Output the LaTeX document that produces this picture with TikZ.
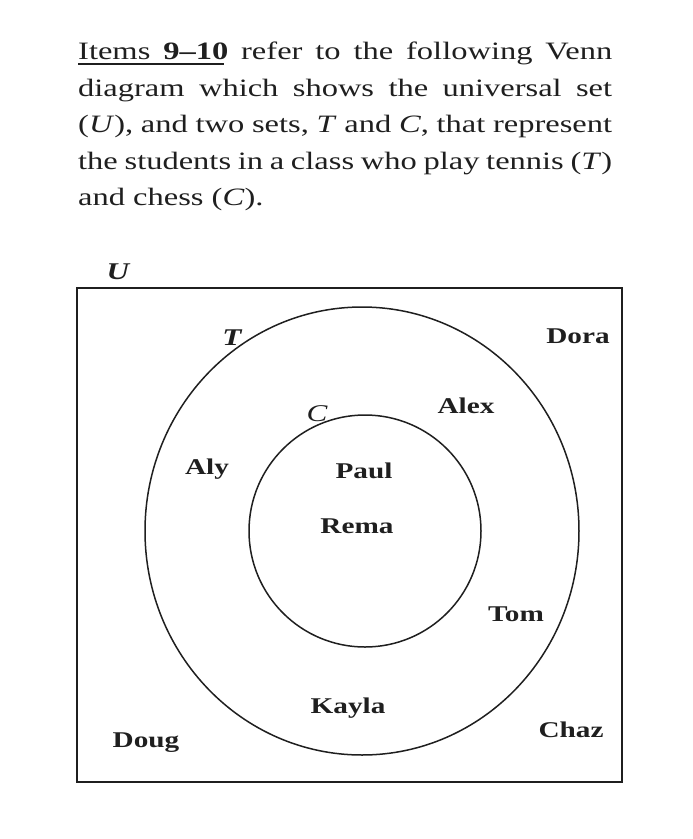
\documentclass[tikz,border=0pt]{standalone}
\usepackage{fontspec}
\setmainfont{Liberation Serif}[FakeStretch=1.3]

\newlength\VDulwd
\newcommand\VDthickul[1]{\settowidth\VDulwd{#1}\rlap{\rule[-5pt]{\VDulwd}{1.8pt}}#1}

\begin{document}
\begin{tikzpicture}[x=1pt,y=-1pt]

  % ---- sizing knobs ----
  \def\VDcx{362}   % centre of both circles
  \def\VDcy{531}
  \def\VDrTx{217}  % radii of T
  \def\VDrTy{224}
  \def\VDrC{116}   % radius of C

  \definecolor{VDLine}{gray}{0.12}
  \useasboundingbox (0,0) rectangle (693,839);

  % ---- question text ----
  \node[anchor=north west, inner sep=0pt, text width=534pt, align=justify,
        font=\fontsize{25}{36.5}\selectfont, text=VDLine] (intro) at (78,42) {%
    \VDthickul{Items \textbf{9--10}} refer to the following Venn\linebreak
    diagram which shows the universal set\linebreak
    (\textit{U}), and two sets, \textit{T} and \textit{C}, that represent\linebreak
    the students in a class who play tennis (\textit{T})\linebreak
    and chess (\textit{C}).};

  % ---- borders ----
  \draw[VDLine, line width=1.7pt] (77,288) rectangle (622,782);
  \draw[VDLine, line width=1.5pt] (\VDcx,\VDcy) ellipse[x radius=\VDrTx, y radius=\VDrTy];
  \draw[VDLine, line width=1.5pt] (\VDcx+3,\VDcy) circle[radius=\VDrC];

  % ---- set labels ----
  \tikzset{setlabel/.style={anchor=base, inner sep=0pt, text=VDLine,
                            font=\fontsize{24}{28}\selectfont\itshape}}
  \tikzset{setlabelbf/.style={setlabel,
                              font=\fontsize{24}{28}\selectfont\bfseries\itshape}}
  \node[setlabelbf] (labU) at (118,279) {U};
  \node[setlabelbf] (labT) at (232,345) {T};
  \node[setlabel]   (labC) at (317,421) {C};

  % ---- students ----
  \tikzset{student/.style={anchor=base, inner sep=0pt, text=VDLine,
                           font=\fontsize{22.5}{27}\selectfont\bfseries}}
  \node[student] (dora)  at (578,343) {Dora};
  \node[student] (alex)  at (466,413) {Alex};
  \node[student] (aly)   at (207,474) {Aly};
  \node[student] (paul)  at (364,478) {Paul};
  \node[student] (rema)  at (357,533) {Rema};
  \node[student] (tom)   at (516,621) {Tom};
  \node[student] (kayla) at (348,713) {Kayla};
  \node[student] (doug)  at (146,747) {Doug};
  \node[student] (chaz)  at (571,737) {Chaz};

\end{tikzpicture}
\end{document}
